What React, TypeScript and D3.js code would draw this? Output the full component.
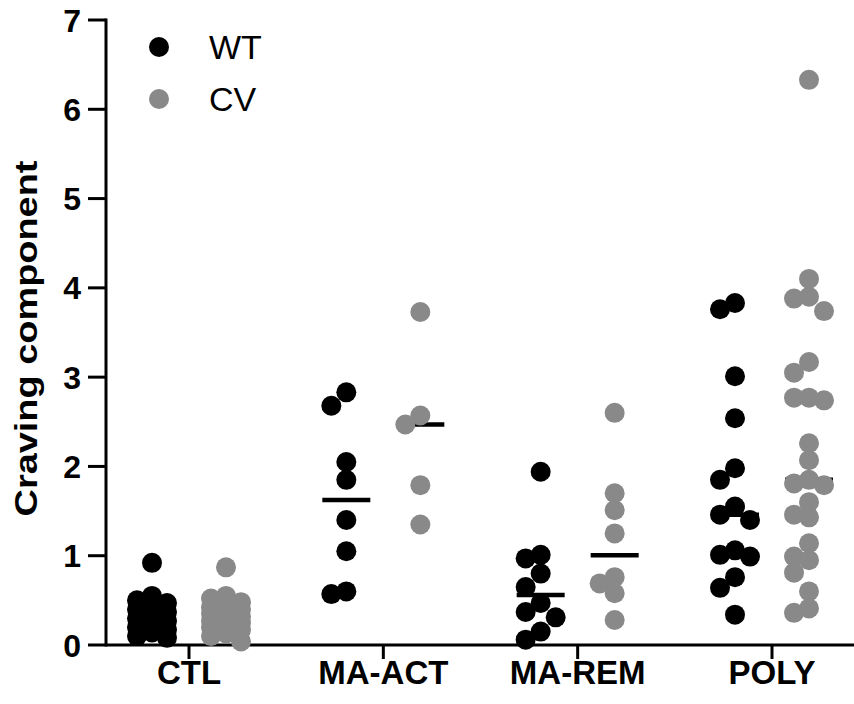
import React from 'react';
import * as d3 from 'd3';

const categories = ['CTL', 'MA-ACT', 'MA-REM', 'POLY'];
const groups = ['WT', 'CV'];
const groupColors = { WT: '#000000', CV: '#898989' };
const yTicks = [0, 1, 2, 3, 4, 5, 6, 7];

// values, one array per category and group
const ctlWT = [0.92, 0.55, 0.5, 0.47, 0.43, 0.4, 0.37, 0.33, 0.3, 0.27, 0.24, 0.2, 0.17, 0.14, 0.1, 0.08];
const ctlCV = [0.87, 0.55, 0.52, 0.48, 0.45, 0.42, 0.4, 0.37, 0.35, 0.32, 0.3, 0.27, 0.25, 0.22, 0.2, 0.17, 0.13, 0.1, 0.04];
const maActWT = [2.83, 2.68, 2.05, 1.85, 1.4, 1.05, 0.6, 0.57];
const maActCV = [3.73, 2.57, 2.47, 1.79, 1.35];
const maRemWT = [1.94, 1.01, 0.97, 0.8, 0.65, 0.47, 0.37, 0.31, 0.15, 0.06];
const maRemCV = [2.6, 1.7, 1.51, 1.25, 0.76, 0.69, 0.58, 0.28];
const polyWT = [3.83, 3.76, 3.01, 2.54, 1.98, 1.85, 1.55, 1.46, 1.4, 1.06, 1.01, 0.99, 0.76, 0.64, 0.34];
const polyCV = [6.33, 4.1, 3.9, 3.88, 3.74, 3.17, 3.05, 2.77, 2.77, 2.74, 2.26, 2.07, 1.85, 1.81, 1.79, 1.6, 1.46, 1.43, 1.14, 0.99, 0.95, 0.81, 0.6, 0.41, 0.36];

const series = [
  { cat: 'CTL', group: 'WT', values: ctlWT },
  { cat: 'CTL', group: 'CV', values: ctlCV },
  { cat: 'MA-ACT', group: 'WT', values: maActWT },
  { cat: 'MA-ACT', group: 'CV', values: maActCV },
  { cat: 'MA-REM', group: 'WT', values: maRemWT },
  { cat: 'MA-REM', group: 'CV', values: maRemCV },
  { cat: 'POLY', group: 'WT', values: polyWT },
  { cat: 'POLY', group: 'CV', values: polyCV },
];

const W = 854;
const H = 704;
const FONT = '"Liberation Sans", Arial, sans-serif';

const x = d3.scalePoint().domain(categories).range([189, 772]);
const xGroup = d3.scalePoint().domain(groups).range([-37, 37]);
const y = d3.scaleLinear().domain([0, 7]).range([645, 20]);

const R = 10;
const STEP = 15;
const MIN_DIST = 15;

// simple column swarm: highest value first, centre column preferred, max 3 columns
function swarm(values, cx) {
  const placed = [];
  const order = values.slice().sort((a, b) => b - a);
  order.forEach(v => {
    const py = y(v);
    let best = null;
    let bestD = -1;
    for (const k of [0, -1, 1]) {
      const px = cx + k * STEP;
      const d = placed.length
        ? d3.min(placed, p => Math.hypot(p.x - px, p.y - py))
        : Infinity;
      if (d >= MIN_DIST) { best = px; break; }
      if (d > bestD) { bestD = d; best = px; }
    }
    placed.push({ x: best, y: py, v });
  });
  return placed;
}

export default function App() {
  const layouts = series.map(s => {
    const cx = x(s.cat) + xGroup(s.group);
    return { ...s, cx, med: d3.median(s.values), pts: swarm(s.values, cx) };
  });

  return (
    <svg width={W} height={H} style={{ position: 'absolute', left: 0, top: 0, background: '#fff' }} fontFamily={FONT}>
      {/* y axis */}
      <line x1={106} x2={106} y1={y(7) - 1.5} y2={y(0) + 1.5} stroke="#000" strokeWidth={3} />
      {yTicks.map(t => (
        <g key={t}>
          <line x1={88} x2={106} y1={y(t)} y2={y(t)} stroke="#000" strokeWidth={3} />
          <text x={81} y={y(t)} dy="0.36em" textAnchor="end" fontSize={32} fontWeight="bold">{t}</text>
        </g>
      ))}
      <text
        transform={`translate(37, ${(y(0) + y(7)) / 2 + 6}) rotate(-90)`}
        textAnchor="middle"
        fontSize={31}
        fontWeight="bold"
        textLength={356}
        lengthAdjust="spacingAndGlyphs"
      >Craving component</text>

      {/* x axis */}
      <line x1={106} x2={W} y1={y(0)} y2={y(0)} stroke="#000" strokeWidth={3} />
      {categories.map(c => (
        <g key={c}>
          <line x1={x(c)} x2={x(c)} y1={y(0)} y2={y(0) + 14} stroke="#000" strokeWidth={3} />
          <text x={x(c)} y={684} textAnchor="middle" fontSize={33} fontWeight="bold">{c}</text>
        </g>
      ))}

      {/* medians */}
      {layouts.map((l, i) => (
        <line key={'m' + i} x1={l.cx - 24} x2={l.cx + 24} y1={y(l.med)} y2={y(l.med)} stroke="#000" strokeWidth={4.5} />
      ))}

      {/* dots */}
      {layouts.map((l, i) => (
        <g key={'d' + i} fill={groupColors[l.group]}>
          {l.pts.map((p, j) => <circle key={j} cx={p.x} cy={p.y} r={R} />)}
        </g>
      ))}

      {/* legend */}
      {groups.map((g, i) => (
        <g key={g} transform={`translate(159, ${47 + i * 52})`}>
          <circle r={R} fill={groupColors[g]} />
          <text x={50} y={0} dy="0.36em" fontSize={34}>{g}</text>
        </g>
      ))}
    </svg>
  );
}
